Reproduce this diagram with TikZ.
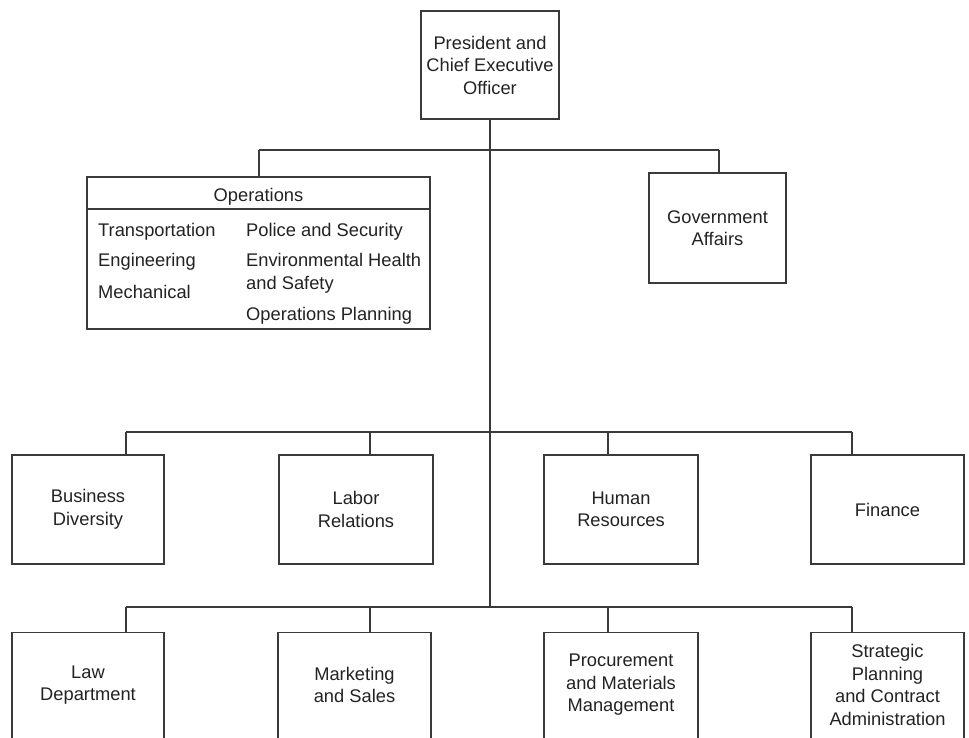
\documentclass[tikz,border=0pt]{standalone}
\usepackage{fontspec}
\setmainfont{Liberation Sans}
\definecolor{ink}{HTML}{222222}
\definecolor{linec}{HTML}{3A3A3A}
\begin{document}
\begin{tikzpicture}[x=1pt,y=-1pt,
  txt/.style={text=ink,font=\fontsize{18.3}{22.5}\selectfont,inner sep=0pt},
  box/.style={draw=linec,line width=1.3pt,inner sep=0pt,align=center,txt},
  conn/.style={draw=linec,line width=1.3pt}]
\useasboundingbox (0,0) rectangle (969,738);
\clip (0,0) rectangle (969,738);
% top
\node[box,minimum width=138pt,minimum height=108pt] (ceo) at (490,65) {President and\\Chief Executive\\Officer};
\node[box,minimum width=343pt,minimum height=152pt] (ops) at (258.5,253) {};
\node[box,minimum width=137pt,minimum height=110pt] (gov) at (717.5,228) {Government\\Affairs};
\draw[conn] (ops.west |- 0,209) -- (ops.east |- 0,209);
\node[txt,anchor=base] (opst) at (258.5,201.5) {Operations};
\node[txt,anchor=base west] (o1) at (98,236.5) {Transportation};
\node[txt,anchor=base west] (o2) at (98,266.5) {Engineering};
\node[txt,anchor=base west] (o3) at (98,298) {Mechanical};
\node[txt,anchor=base west] (o4) at (246,236.5) {Police and Security};
\node[txt,anchor=base west] (o5) at (246,266.5) {Environmental Health};
\node[txt,anchor=base west] (o6) at (246,289.5) {and Safety};
\node[txt,anchor=base west] (o7) at (246,320.5) {Operations Planning};
% row 2
\node[box,minimum width=152pt,minimum height=109pt] (bd) at (88,509.5) {Business\\Diversity};
\node[box,minimum width=154pt,minimum height=109pt] (lab) at (356,509.5) {Labor\\Relations};
\node[box,minimum width=154pt,minimum height=109pt] (hr) at (621,509.5) {Human\\Resources};
\node[box,minimum width=153pt,minimum height=109pt] (fin) at (887.5,509.5) {Finance};
% row 3 (boxes run off the bottom edge)
\node[box,minimum width=152pt,minimum height=130pt,anchor=north] (law) at (88,632) {};
\node[box,minimum width=153pt,minimum height=130pt,anchor=north] (mkt) at (354.5,632) {};
\node[box,minimum width=154pt,minimum height=130pt,anchor=north] (proc) at (621,632) {};
\node[box,minimum width=153pt,minimum height=130pt,anchor=north] (strat) at (887.5,632) {};
\node[txt,align=center] (lawt) at (88,685) {Law\\Department};
\node[txt,align=center] (mktt) at (354.5,685) {Marketing\\and Sales};
\node[txt,align=center] (proct) at (621,685) {Procurement\\and Materials\\Management};
\node[txt,align=center] (stratt) at (887.5,685) {Strategic\\Planning\\and Contract\\Administration};
% connectors
\coordinate (b3) at (490,607);
\draw[conn] (ceo.south) -- (b3);
\draw[conn] (259,150) -- (719,150);
\draw[conn] (259,150) -- (259,150 |- ops.north);
\draw[conn] (719,150) -- (719,150 |- gov.north);
\draw[conn] (126,432) -- (852,432);
\draw[conn] (126,607) -- (852,607);
\foreach \x/\n in {126/bd,370/lab,608/hr,852/fin}
  \draw[conn] (\x,432) -- (\x,432 |- \n.north);
\foreach \x/\n in {126/law,370/mkt,608/proc,852/strat}
  \draw[conn] (\x,607) -- (\x,607 |- \n.north);
\end{tikzpicture}
\end{document}
